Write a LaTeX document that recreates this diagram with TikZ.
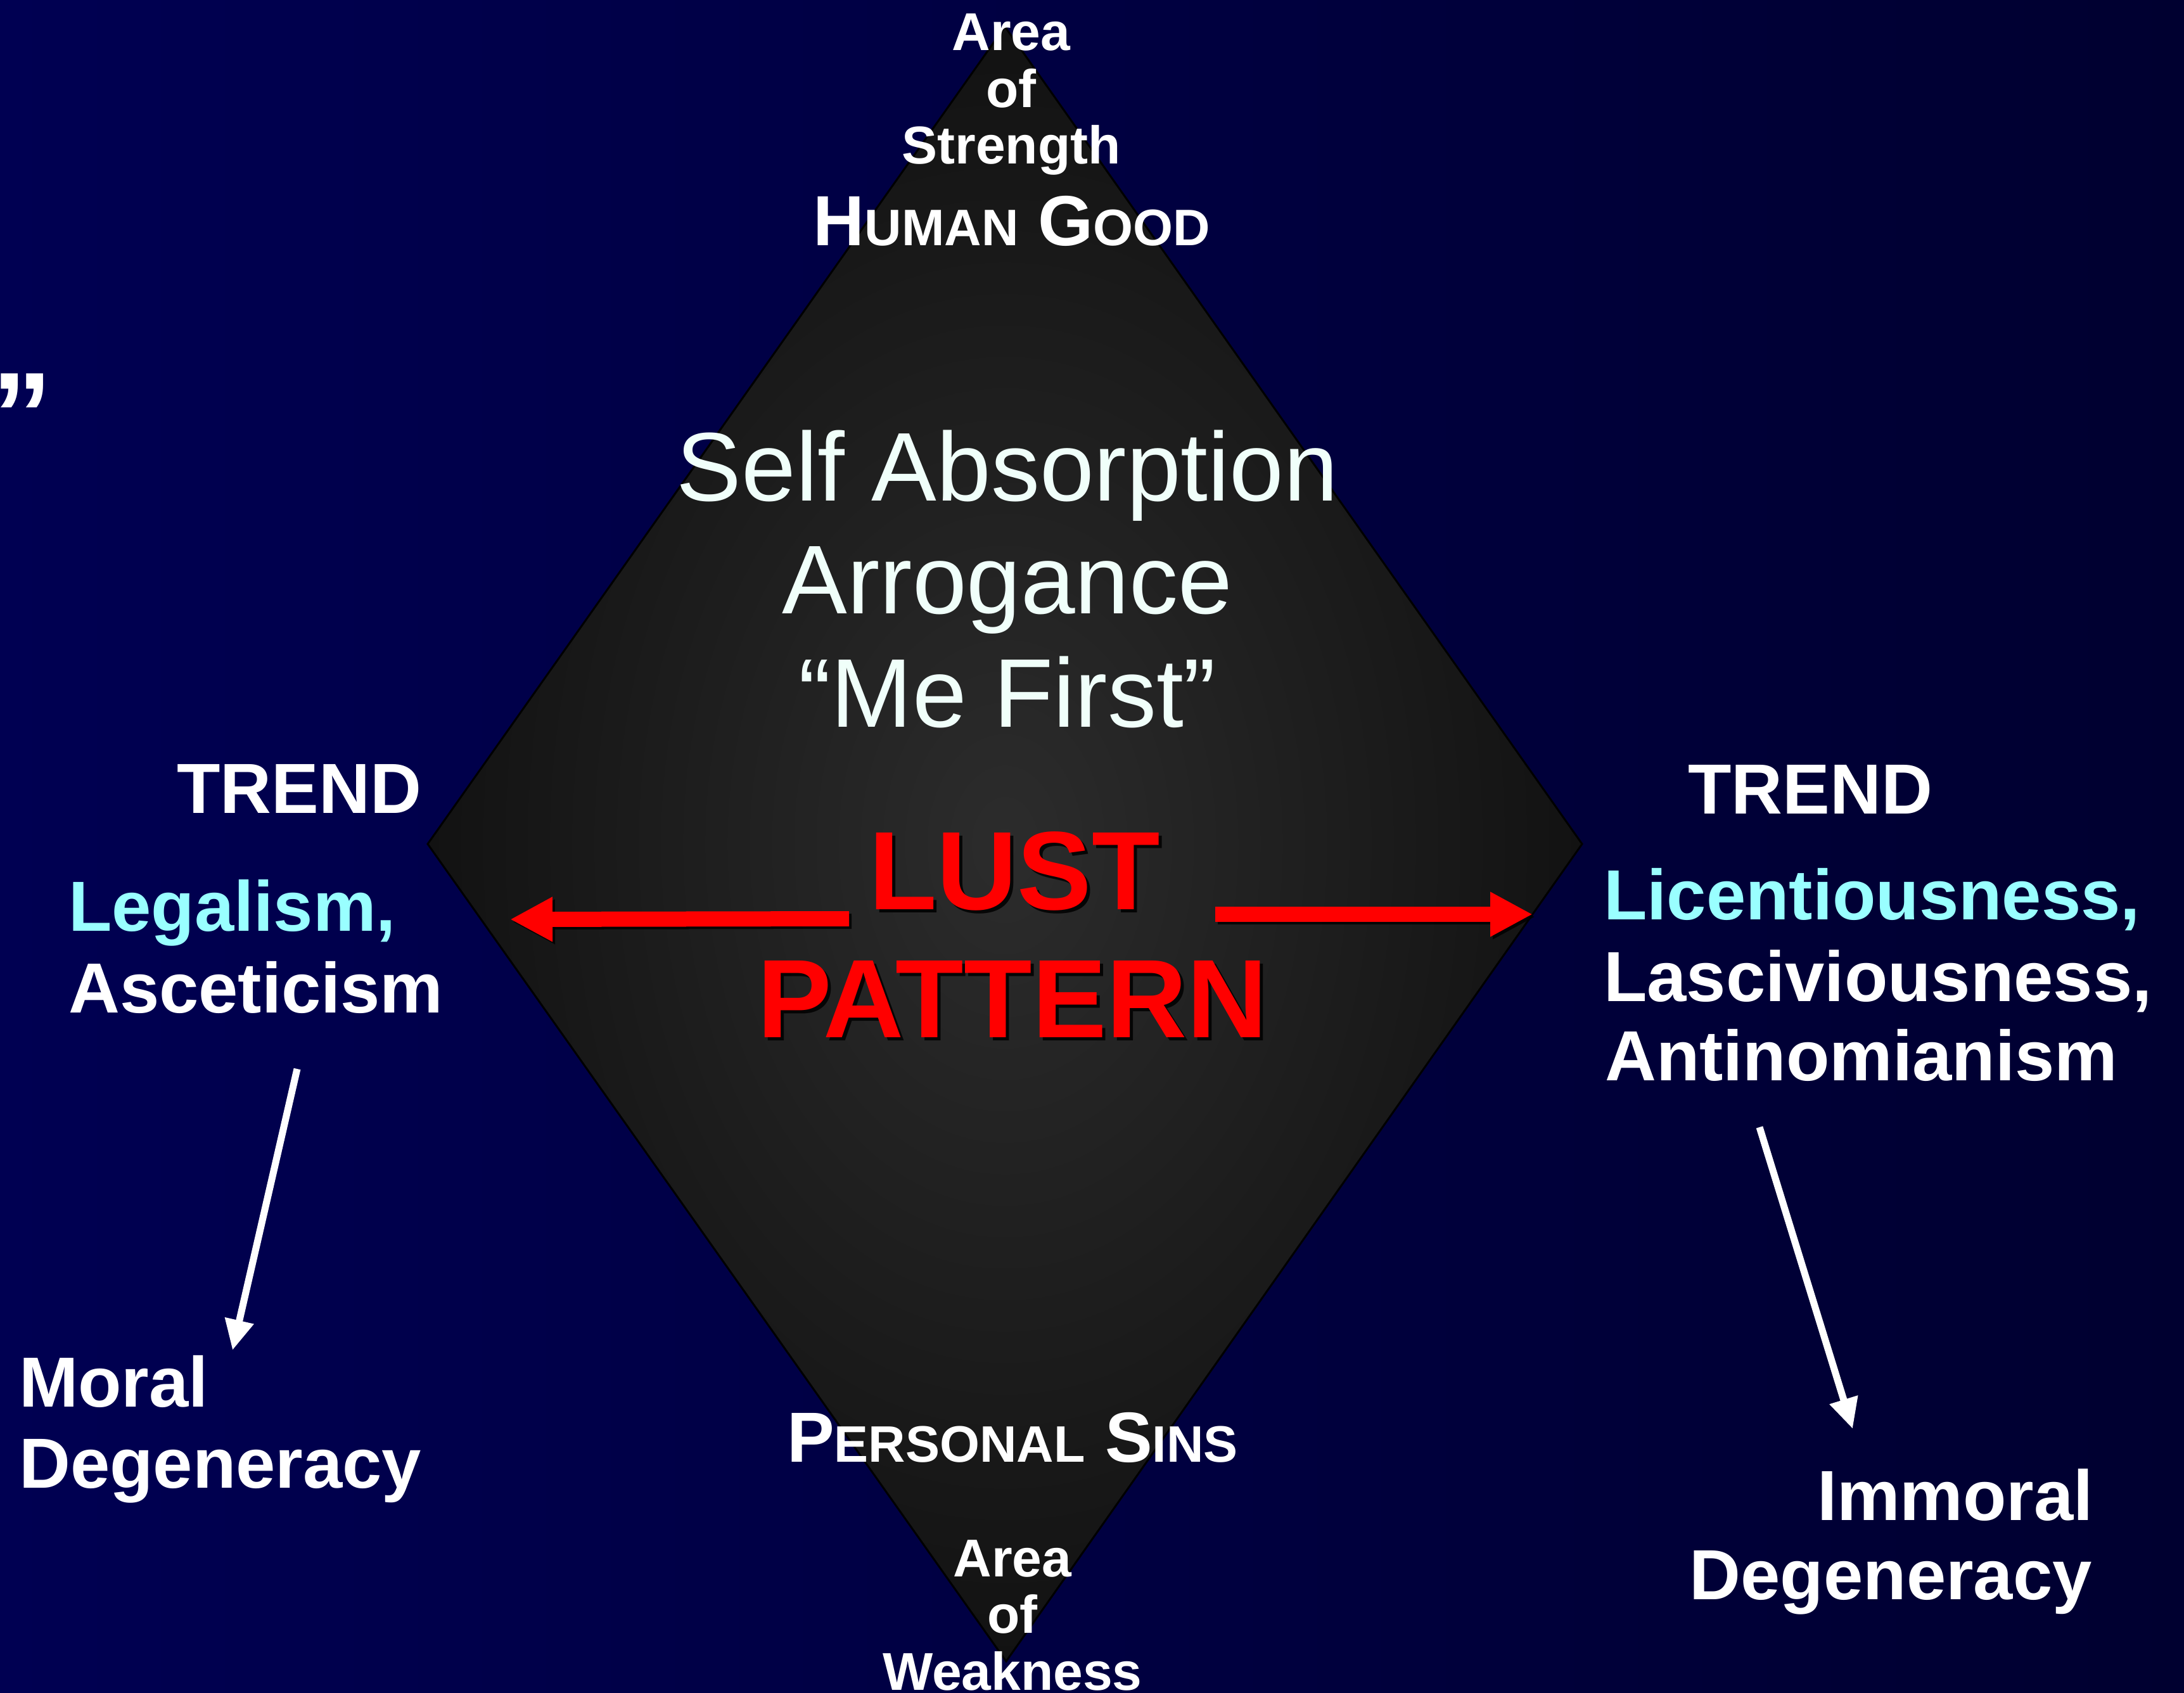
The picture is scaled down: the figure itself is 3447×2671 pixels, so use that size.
\documentclass[tikz,border=0pt]{standalone}
\usepackage{fontspec}
\setmainfont{Liberation Sans}
\usetikzlibrary{arrows.meta}
\definecolor{bgL}{RGB}{0,0,82}
\definecolor{bgR}{RGB}{0,0,48}
\definecolor{dmin}{RGB}{44,44,44}
\definecolor{dmout}{RGB}{18,18,18}
\definecolor{cyantext}{RGB}{153,255,255}
\definecolor{paletxt}{RGB}{240,255,250}
\definecolor{lustred}{RGB}{255,0,0}
\begin{document}
\begin{tikzpicture}[x=1pt,y=-1pt,
  txt/.style={inner sep=0pt, text=white, font=\bfseries\fontsize{112}{112}\selectfont},
  areatxt/.style={inner sep=0pt, text=white, anchor=base, font=\bfseries\fontsize{84}{84}\selectfont},
  bigtxt/.style={inner sep=0pt, text=paletxt, anchor=base, font=\fontsize{154}{154}\selectfont},
  redtxt/.style={inner sep=0pt, text=lustred, anchor=base, font=\bfseries\fontsize{176}{176}\selectfont},
  shadowtxt/.style={inner sep=0pt, text=black, anchor=base, font=\bfseries\fontsize{176}{176}\selectfont},
  redarrow/.style={draw=lustred, line width=24pt, -{Triangle[width=66pt,length=67pt]}},
  shadowarrow/.style={draw=black, line width=24pt, -{Triangle[width=66pt,length=67pt]}},
  whitearrow/.style={draw=white, line width=11pt, -{Triangle[width=44pt,length=48pt]}},
  diamondedge/.style={draw=black, line width=3pt, line join=miter}
]
\useasboundingbox (0,0) rectangle (3447,2671);
\clip (0,0) rectangle (3447,2671);
% background
\shade[left color=bgL, right color=bgR] (0,0) rectangle (3447,2671);
% diamond
\coordinate (dT) at (1586,42);
\coordinate (dR) at (2497,1332);
\coordinate (dB) at (1588,2622);
\coordinate (dL) at (675,1332);
\shade[inner color=dmin, outer color=dmout] (dT) -- (dR) -- (dB) -- (dL) -- cycle;
\draw[diamondedge] (dT) -- (dR) -- (dB) -- (dL) -- cycle;

% leftover quote mark
\node[inner sep=0pt, anchor=north east, text=white, font=\bfseries\fontsize{190}{190}\selectfont] (quote) at (83,590) {”};

% top labels
\node[areatxt] (areaT) at (1596,80) {Area};
\node[areatxt] (ofT) at (1596,169) {of};
\node[areatxt] (strength) at (1596,258) {Strength};
\node[txt, anchor=base] (human) at (1597,387) {H{\fontsize{81}{81}\selectfont UMAN} G{\fontsize{81}{81}\selectfont OOD}};

% center text
\node[bigtxt] (selfabs) at (1590,790) {Self Absorption};
\node[bigtxt] (arrog) at (1590,968) {Arrogance};
\node[bigtxt] (mefirst) at (1590,1147) {“Me First”};

% LUST PATTERN
\node[shadowtxt, opacity=0.85] (lustsh) at (1606,1440) {LUST};
\node[shadowtxt, opacity=0.85] (patsh) at (1603,1642) {PATTERN};
\node[redtxt] (lust) at (1601,1435) {LUST};
\node[redtxt] (pattern) at (1598,1637) {PATTERN};

% red arrows
\coordinate (rLs) at (1340,1450);
\coordinate (rLe) at (805,1451);
\coordinate (rRs) at (1918,1443);
\coordinate (rRe) at (2419,1443);
\coordinate (rLs2) at (1344,1454);
\coordinate (rLe2) at (809,1455);
\coordinate (rRs2) at (1922,1447);
\coordinate (rRe2) at (2423,1447);
\draw[shadowarrow, opacity=0.8] (rLs2) -- (rLe2);
\draw[shadowarrow, opacity=0.8] (rRs2) -- (rRe2);
\draw[redarrow] (rLs) -- (rLe);
\draw[redarrow] (rRs) -- (rRe);

% left side
\node[txt, anchor=base west] (trendL) at (279,1283) {TREND};
\node[txt, anchor=base west, text=cyantext] (legal) at (108,1469) {Legalism,};
\node[txt, anchor=base west] (ascet) at (108,1598) {Asceticism};
\node[txt, anchor=base west] (moral) at (30,2220) {Moral};
\node[txt, anchor=base west] (degL) at (30,2348) {Degeneracy};
\coordinate (aLs) at (469,1687);
\coordinate (aLe) at (367,2131);
\draw[whitearrow] (aLs) -- (aLe);

% right side
\node[txt, anchor=base west] (trendR) at (2664,1284) {TREND};
\node[txt, anchor=base west, text=cyantext] (licent) at (2531,1451) {Licentiousness,};
\node[txt, anchor=base west] (lasc) at (2531,1580) {Lasciviousness,};
\node[txt, anchor=base west] (antin) at (2533,1705) {Antinomianism};
\node[txt, anchor=base east] (immoral) at (3304,2399) {Immoral};
\node[txt, anchor=base east] (degR) at (3302,2524) {Degeneracy};
\coordinate (aRs) at (2777,1779);
\coordinate (aRe) at (2924,2255);
\draw[whitearrow] (aRs) -- (aRe);

% bottom labels
\node[txt, anchor=base] (personal) at (1598,2307) {P{\fontsize{81}{81}\selectfont ERSONAL} S{\fontsize{81}{81}\selectfont INS}};
\node[areatxt] (areaB) at (1598,2488) {Area};
\node[areatxt] (ofB) at (1598,2577) {of};
\node[areatxt] (weak) at (1598,2667) {Weakness};
\end{tikzpicture}
\end{document}
